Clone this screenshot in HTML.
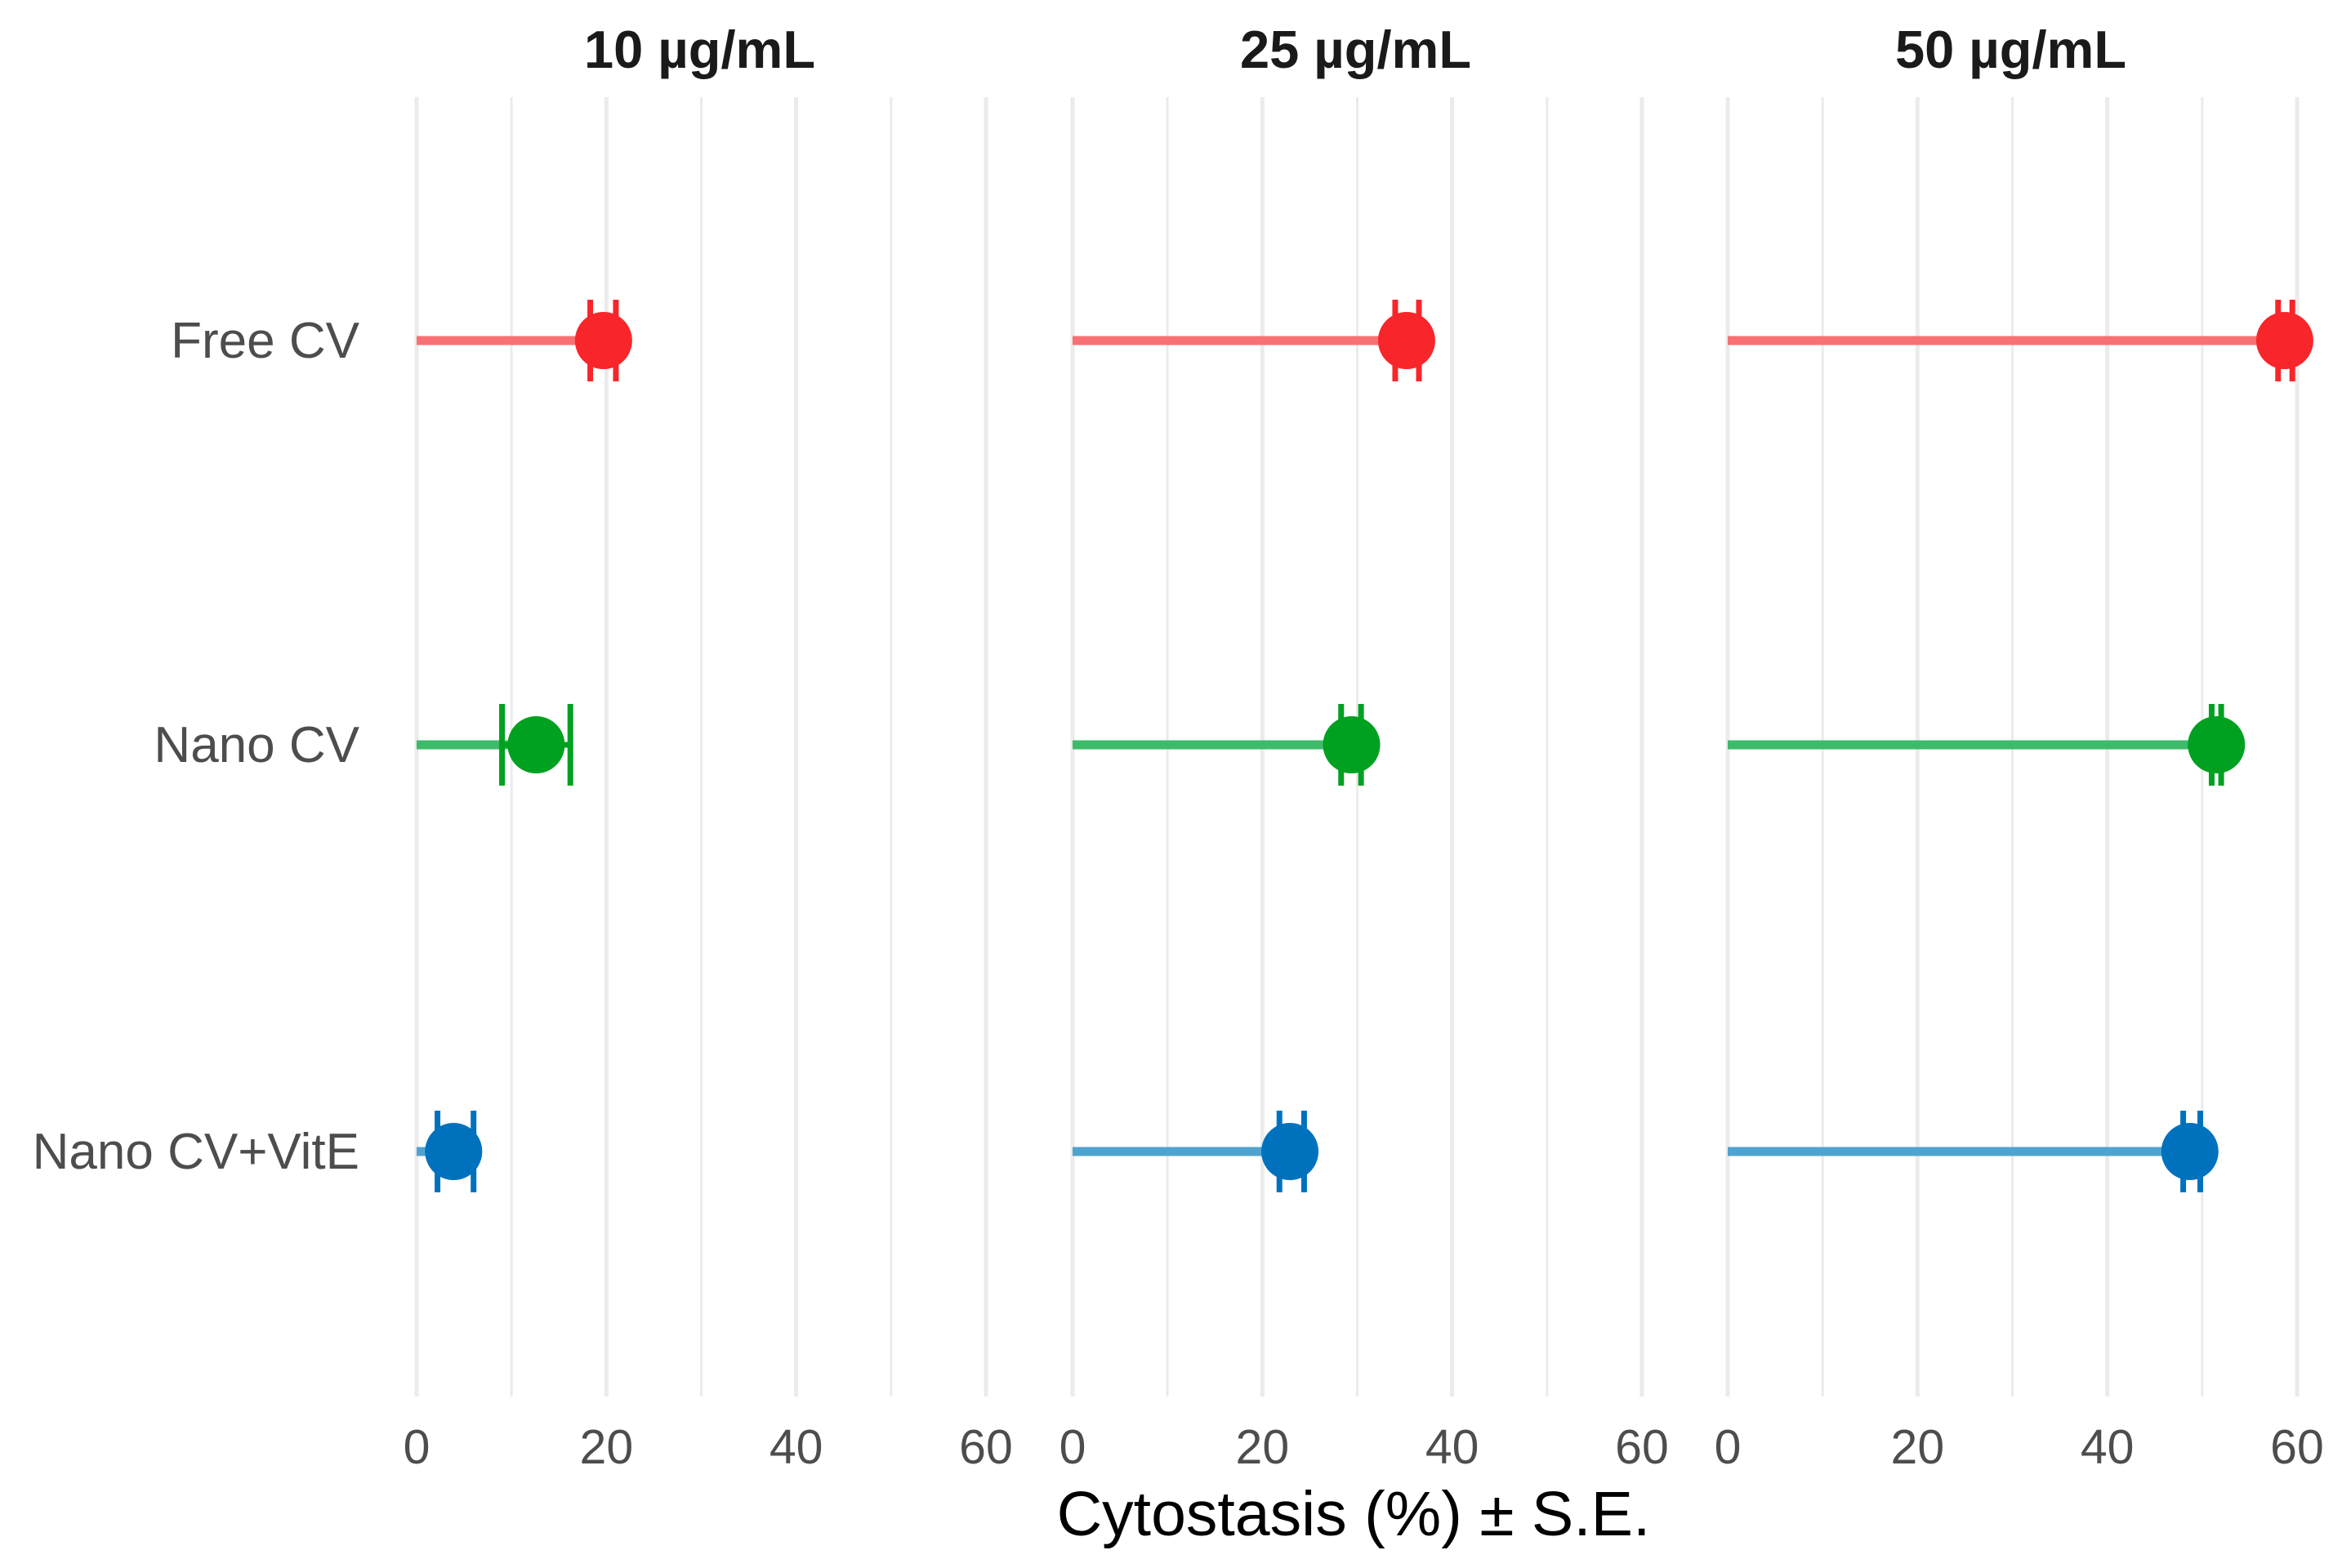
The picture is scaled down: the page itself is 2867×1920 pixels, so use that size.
<!DOCTYPE html>
<html><head><meta charset="utf-8"><style>
html,body{margin:0;padding:0;background:#fff;}
svg{display:block;font-family:"Liberation Sans",sans-serif;}
</style></head><body>
<svg id="chart" width="2867" height="1920" viewBox="0 0 2867 1920"></svg>
<script>
const categories = ["Free CV", "Nano CV", "Nano CV+VitE"];
const panels = ["10 µg/mL", "25 µg/mL", "50 µg/mL"];
const means = [[19.7, 12.6, 3.9], [35.2, 29.4, 22.9], [58.7, 51.5, 48.7]];
const lows = [[18.3, 9.0, 2.2], [34.0, 28.3, 21.8], [58.0, 51.0, 48.0]];
const highs = [[21.0, 16.2, 6.0], [36.5, 30.4, 24.4], [59.5, 52.0, 49.8]];
const ticks = [0, 20, 40, 60];
const grid = [0, 10, 20, 30, 40, 50, 60];

const NS = "http://www.w3.org/2000/svg";
const svg = document.getElementById("chart");
const panelX0 = [510, 1313, 2115];
const unit = (1207 - 510) / 60;
const rowY = [417, 912, 1410];
const ptColors = ["#f8262a", "#00a020", "#0072bd"];
const segColors = ["#f87074", "#3dbb6a", "#4fa3d0"];
function xs(p, v) { return panelX0[p] + v * unit; }
function ys(i) { return rowY[i]; }
function mk(tag, attrs, parent) {
  const e = document.createElementNS(NS, tag);
  for (const k in attrs) e.setAttribute(k, attrs[k]);
  (parent || svg).appendChild(e);
  return e;
}

panels.forEach((title, p) => {
  const g = mk("g", {});
  
  
  grid.forEach(v => {
    const l = mk("line", {x1: xs(p, v), x2: xs(p, v), y1: 119, y2: 1710, stroke: "#ebebeb", "stroke-width": v % 20 === 0 ? 5 : 3}, g);
    
    
  });
  ticks.forEach(v => {
    const t = mk("text", {x: xs(p, v), y: 1792, "text-anchor": "middle", "font-size": 59, fill: "#4d4d4d"}, g);
    t.textContent = v;
    
    
  });
  const st = mk("text", {x: xs(p, 30) - 2, y: 83, "text-anchor": "middle", "font-size": 65, "font-weight": "bold", fill: "#1a1a1a"}, g);
  st.textContent = title;
  
  
  categories.forEach((c, i) => {
    const y = ys(i);
    const s = mk("line", {x1: xs(p, 0), x2: xs(p, means[p][i]), y1: y, y2: y, stroke: segColors[i], "stroke-width": 11}, g);
    
    
    [lows[p][i], highs[p][i]].forEach(v => {
      const e = mk("line", {x1: xs(p, v), x2: xs(p, v), y1: y - 50, y2: y + 50, stroke: ptColors[i], "stroke-width": 7}, g);
      
      
    });
    const h = mk("line", {x1: xs(p, lows[p][i]), x2: xs(p, highs[p][i]), y1: y, y2: y, stroke: ptColors[i], "stroke-width": 7}, g);
    
    
    const pt = mk("circle", {cx: xs(p, means[p][i]), cy: y, r: 35, fill: ptColors[i]}, g);
    
    
  });
});

categories.forEach((c, i) => {
  const t = mk("text", {x: 440, y: ys(i) + 21, "text-anchor": "end", "font-size": 62, fill: "#4d4d4d"});
  t.textContent = c;
  
  
});

const xt = mk("text", {x: 1657, y: 1880, "text-anchor": "middle", "font-size": 77, fill: "#000"});
xt.textContent = "Cytostasis (%) ± S.E.";


</script>
</body></html>
